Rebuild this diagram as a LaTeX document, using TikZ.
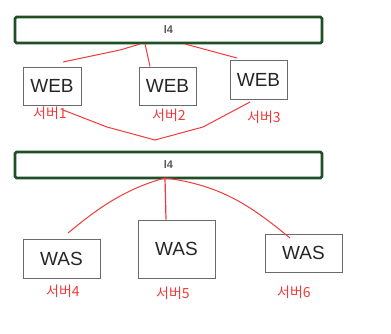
\documentclass[tikz,border=0pt]{standalone}
\usepackage{fontspec}
\setmainfont{Liberation Sans}
\newfontfamily\krfont{Noto Sans CJK KR}
\definecolor{bargreen}{HTML}{1F4F27}
\definecolor{penred}{HTML}{F03A3A}
\definecolor{boxgray}{HTML}{6A6A6A}
\begin{document}
\begin{tikzpicture}[x=1pt,y=-1pt,
  lbar/.style={draw=bargreen,line width=2.6pt,rounded corners=1.5pt,fill=white,minimum width=307pt,minimum height=26pt,inner sep=0pt,font=\fontsize{11}{13}\selectfont\bfseries,text=black!65},
  srv/.style={draw=boxgray,line width=1pt,inner sep=0pt,font=\fontsize{19}{22}\selectfont,text=black!85},
  lbl/.style={text=penred,font=\krfont\fontsize{14}{16}\selectfont,inner sep=0pt},
  pen/.style={draw=penred,line width=1pt}]
\useasboundingbox (0,0) rectangle (391,333);
% bars
\node[lbar] (l4a) at (168.5,30) {l4};
\node[lbar] (l4b) at (168.5,165) {l4};
% web boxes
\node[srv,minimum width=58pt,minimum height=38pt] (web1) at (52,86) {WEB};
\node[srv,minimum width=57pt,minimum height=38pt] (web2) at (167.5,86) {WEB};
\node[srv,minimum width=57pt,minimum height=39pt] (web3) at (258.5,79.5) {WEB};
\node[lbl] (s1) at (50,113) {서버1};
\node[lbl] (s2) at (169,115) {서버2};
\node[lbl] (s3) at (264,117) {서버3};
% was boxes
\node[srv,minimum width=77pt,minimum height=39pt] (was1) at (61.5,258.5) {WAS};
\node[srv,minimum width=77pt,minimum height=58pt] (was2) at (176.5,249) {WAS};
\node[srv,minimum width=77pt,minimum height=38pt] (was3) at (303.5,253) {WAS};
\node[lbl] (s4) at (63,291) {서버4};
\node[lbl] (s5) at (173,293) {서버5};
\node[lbl] (s6) at (294,292) {서버6};
% connector coordinates
\coordinate (a1) at (140,44);
\coordinate (a2) at (145,44);
\coordinate (a3) at (185,44);
\coordinate (e1) at (63,62);
\coordinate (e3) at (237,58);
\coordinate (m) at (155,140);
\coordinate (b0) at (165,178);
\coordinate (w1) at (68,233);
\coordinate (w3) at (290,238);
% top connectors
\draw[pen] (e1) -- (120,50) -- (a1);
\draw[pen] (a2) -- (web2.north -| 150,0);
\draw[pen] (a3) -- (e3);
% crossing lines
\draw[pen] (63,110) -- (107,127) -- (m) -- (203,127) -- (250,102);
% bottom connectors
\draw[pen] (b0) .. controls (120,190) and (90,215) .. (w1);
\draw[pen,line width=1.2pt] (b0) -- (was2.north -| 166,0);
\draw[pen] (b0) .. controls (220,185) and (250,205) .. (w3);
\end{tikzpicture}
\end{document}
